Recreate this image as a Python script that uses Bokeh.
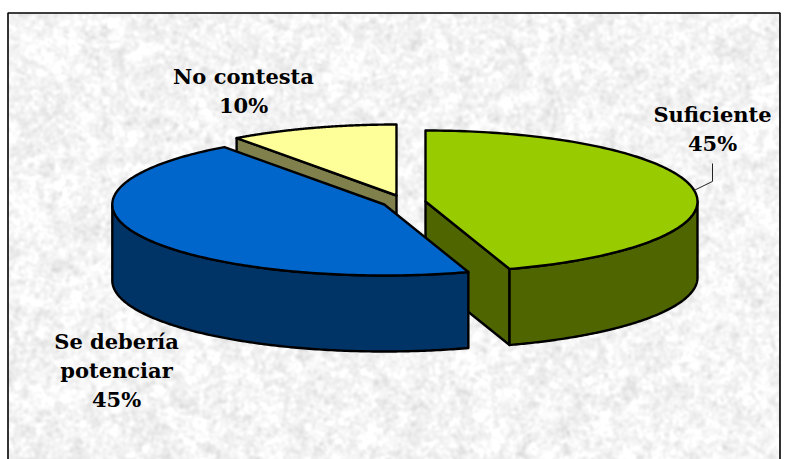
import numpy as np
from bokeh.plotting import figure
from bokeh.models import Range1d
from bokeh.core.properties import value
from bokeh.embed import file_html
from bokeh.resources import INLINE

# ---- data
categories = ["Suficiente", "Se debería potenciar", "No contesta"]
percent = [45, 45, 10]
label_lines = [["Suficiente", "45%"], ["Se debería", "potenciar", "45%"], ["No contesta", "10%"]]

# ---- styles and layout
top_colors = ["#99CC00", "#0066CC", "#FFFF99"]
wall_colors = ["#4F6600", "#003366", "#80804D"]
centers = [(425.0, 201.0), (383.8, 204.0), (396.0, 195.0)]
label_pos = [(712, 114), (116, 341), (243, 76)]
RX, RY, DEPTH = 272.0, 71.0, 76.0
LINE_H = 29
W, H = 789, 459
FRAME_L, FRAME_T, FRAME_R, FRAME_B = 7.5, 12.5, 779.5, 470.0

p = figure(width=W, height=H, output_backend="svg", toolbar_location=None,
           x_range=Range1d(0, W), y_range=Range1d(-H, 0),
           min_border=0, background_fill_color="white", border_fill_color="white",
           outline_line_color=None)
p.axis.visible = False
p.grid.visible = False

# ---- paper texture (decoration only)
rng = np.random.default_rng(7)
th, tw = 447, 772
def blur_noise(sx, sy):
    f = np.fft.rfft2(rng.standard_normal((th, tw)))
    fy = np.fft.fftfreq(th)[:, None]
    fx = np.fft.rfftfreq(tw)[None, :]
    out = np.fft.irfft2(f * np.exp(-2 * np.pi**2 * ((fx * sx)**2 + (fy * sy)**2)), s=(th, tw))
    return out / out.std()
n = 0.75 * blur_noise(1.6, 1.6) + 0.55 * blur_noise(4, 4) + 0.15 * blur_noise(14, 14)
gray = np.clip(245 + 7 * n, 216, 255).astype(np.uint32)
img = (np.uint32(255) << 24) | (gray << 16) | (gray << 8) | gray
p.image_rgba(image=[img], x=FRAME_L, y=-(FRAME_T + th), dw=tw, dh=th)
p.line([FRAME_L, FRAME_L, FRAME_R, FRAME_R], [-FRAME_B, -FRAME_T, -FRAME_T, -FRAME_B],
       line_color="black", line_width=1.6)

# ---- 3D pie built from the values (angles clockwise from the top)
def rim(cx, cy, a0, a1, dy=0.0, n=160):
    t = np.radians(np.linspace(a0, a1, n))
    return cx + RX * np.sin(t), cy - RY * np.cos(t) + dy

total = sum(percent)
ends = np.cumsum(percent) / total * 360.0
starts = np.concatenate([[0.0], ends[:-1]])
LW = 2.4

def patch(xs, ys, color):
    p.patch(xs, -np.asarray(ys), fill_color=color, line_color="black", line_width=LW, line_join="round")

def draw_slice(i):
    a0, a1 = starts[i], ends[i]
    cx, cy = centers[i]
    xa, ya = rim(cx, cy, a0, a0, n=1)
    xb, yb = rim(cx, cy, a1, a1, n=1)
    if a1 <= 180:            # cut face at a1 looks towards the viewer
        patch([cx, xb[0], xb[0], cx], [cy, yb[0], yb[0] + DEPTH, cy + DEPTH], wall_colors[i])
    if a0 >= 270:            # cut face at a0 looks towards the viewer
        patch([cx, xa[0], xa[0], cx], [cy, ya[0], ya[0] + DEPTH, cy + DEPTH], wall_colors[i])
    # outer wall: only the part of the rim that faces the front
    w0, w1 = max(a0, 90.0), min(a1, 270.0)
    if w1 > w0:
        ux, uy = rim(cx, cy, w0, w1)
        lx, ly = rim(cx, cy, w1, w0, dy=DEPTH)
        patch(np.concatenate([ux, lx]), np.concatenate([uy, ly]), wall_colors[i])
    # top face
    tx, ty = rim(cx, cy, a0, a1)
    patch(np.concatenate([[cx], tx]), np.concatenate([[cy], ty]), top_colors[i])

for i in (2, 0, 1):
    draw_slice(i)

# ---- leader line of the first label, from the rim at the slice's middle
mid = (starts[0] + ends[0]) / 2
mx, my = rim(*centers[0], mid, mid, n=1)
lx0, ly0 = label_pos[0]
p.line([mx[0], lx0, lx0], [-my[0], -(my[0] - 9), -(ly0 + 49)], line_color="#222222", line_width=1)

# ---- labels
for lines, (lx, ly) in zip(label_lines, label_pos):
    p.text(x=[lx] * len(lines), y=[-(ly + k * LINE_H) for k in range(len(lines))], text=lines,
           text_font=value("DejaVu Serif"), text_font_style="bold", text_font_size="21px",
           text_color="black", text_align="center", text_baseline="middle")

open("out.html", "w").write(file_html(p, INLINE))
